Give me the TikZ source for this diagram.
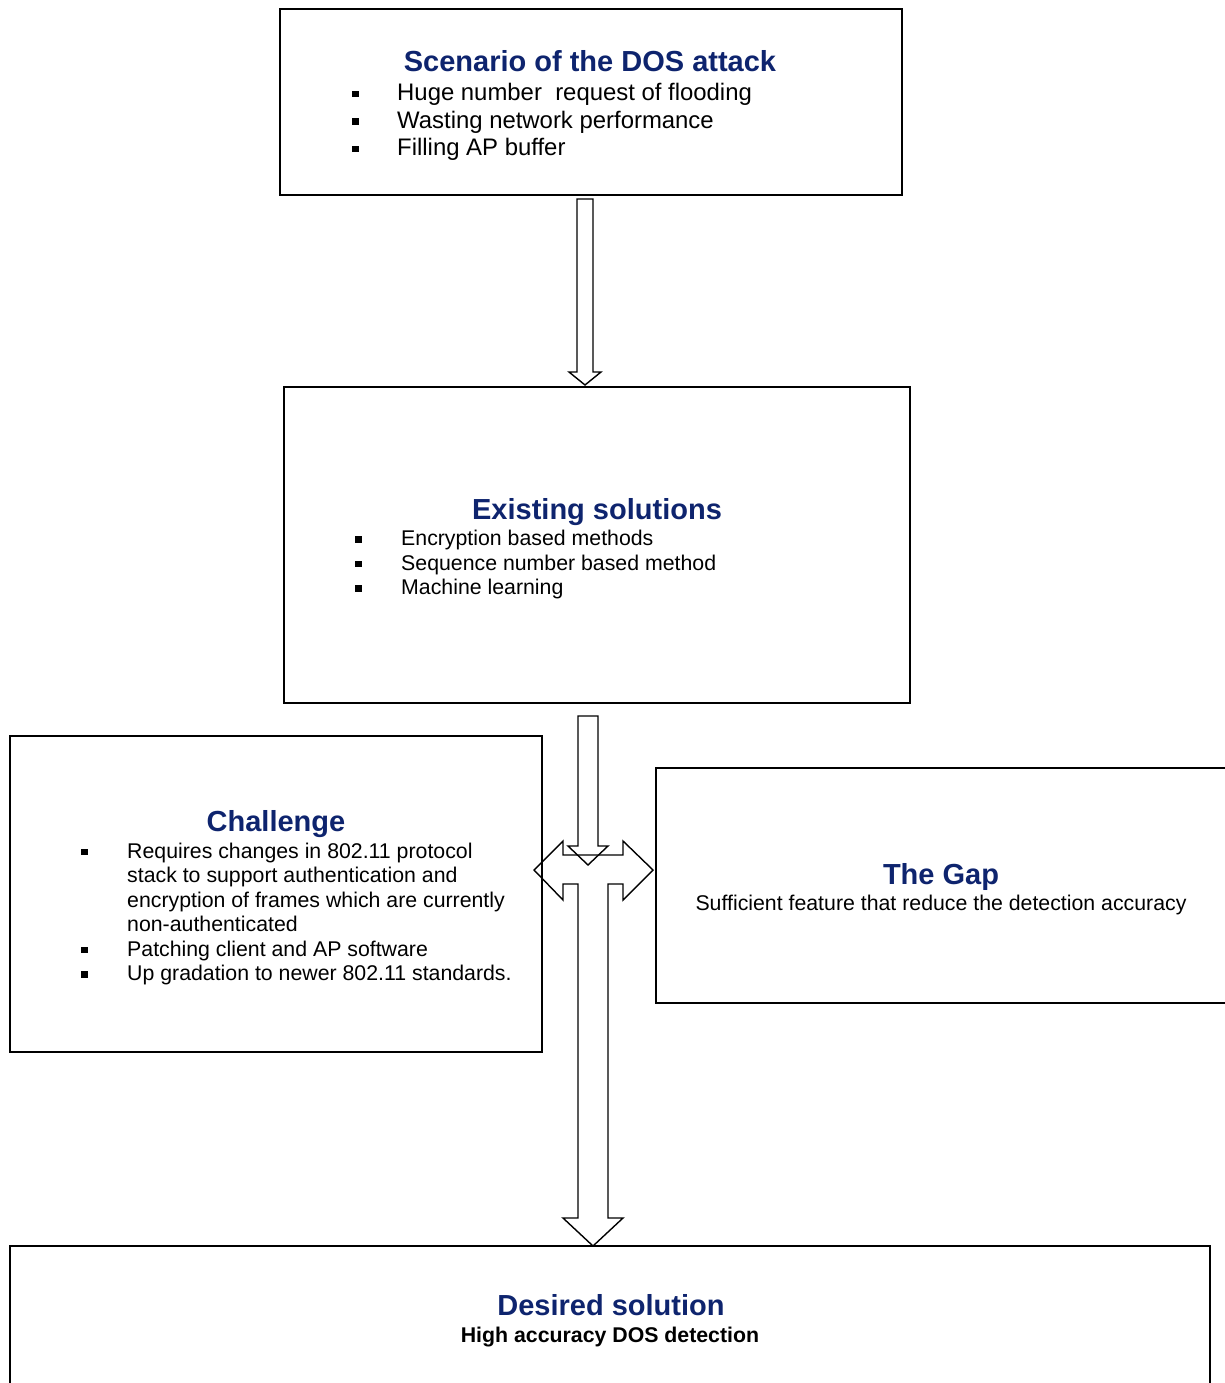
\documentclass[tikz,border=0pt]{standalone}
\usepackage{fontspec}
\setmainfont{Liberation Sans}
\usetikzlibrary{positioning}
\definecolor{ttlblue}{RGB}{14,36,110}
\tikzset{
  box/.style    ={draw, line width=1.6pt, inner sep=0pt},
  ttl/.style    ={font=\fontsize{29}{34}\selectfont\bfseries, text=ttlblue, inner sep=0pt, anchor=base},
  bodyl/.style  ={font=\fontsize{21.3}{24.5}\selectfont, align=left, inner sep=0pt, anchor=base west},
  bigl/.style   ={font=\fontsize{23.9}{27.5}\selectfont, align=left, inner sep=0pt, anchor=base west},
  bodyc/.style  ={font=\fontsize{21.3}{24.5}\selectfont, inner sep=0pt, anchor=base},
  harrow/.style ={draw, line width=1.4pt, line join=miter},
}
\newcommand{\bul}{\makebox[46pt][l]{\rule[3pt]{6.5pt}{6.5pt}}}
\newcommand{\bigbul}{\makebox[45pt][l]{\rule[3.5pt]{6.5pt}{6.5pt}}}

\begin{document}
\begin{tikzpicture}[x=1pt, y=-1pt]
  \useasboundingbox (0,0) rectangle (1224,1383);

  % boxes
  \node[box, minimum width=622pt, minimum height=186pt] (scen) at (591,102) {};
  \node[box, minimum width=626pt, minimum height=316pt] (exist) at (597,545) {};
  \node[box, minimum width=532pt, minimum height=316pt] (chall) at (276,894) {};
  \node[box, minimum width=570pt, minimum height=235pt] (gap) at (941,885.5) {};
  \node[box, minimum width=1200pt, minimum height=144pt] (desir) at (610,1318) {};

  % texts (lists are anchored at the baseline of their last line)
  \node[ttl] (scent) at (590,71.5) {Scenario of the DOS attack};
  \node[bigl] (scenl) at (352,156) {\bigbul Huge number\ \ request of flooding\\
    \bigbul Wasting network performance\\
    \bigbul Filling AP buffer};

  \node[ttl] (existt) at (597,519) {Existing solutions};
  \node[bodyl] (existl) at (355,594.5) {\bul Encryption based methods\\
    \bul Sequence number based method\\
    \bul Machine learning};

  \node[ttl] (challt) at (276,831) {Challenge};
  \node[bodyl] (challl) at (81,980.5) {\bul Requires changes in 802.11 protocol\\
    \hspace*{46pt}stack to support authentication and\\
    \hspace*{46pt}encryption of frames which are currently\\
    \hspace*{46pt}non-authenticated\\
    \bul Patching client and AP software\\
    \bul Up gradation to newer 802.11 standards.};

  \node[ttl] (gapt) at (941,884) {The Gap};
  \node[bodyc] (gapl) at (941,910) {Sufficient feature that reduce the detection accuracy};

  \node[ttl] (desirt) at (611,1315) {Desired solution};
  \node[bodyc, font=\fontsize{21.3}{24}\selectfont\bfseries] (desirl) at (610,1342) {High accuracy DOS detection};

  % block arrows
  \draw[harrow] (577,199) -- (593,199) -- (593,372) -- (601,372) -- (585,385)
    -- (569,372) -- (577,372) -- cycle;
  \draw[harrow] (563,855) -- (563,841) -- (534,870) -- (563,900) -- (563,884)
    -- (578,884) -- (578,1218) -- (563,1218) -- (593,1246) -- (623,1218)
    -- (608,1218) -- (608,884) -- (623,884) -- (623,900) -- (653,870)
    -- (623,841) -- (623,855) -- cycle;
  \draw[harrow] (578,716) -- (598,716) -- (598,846) -- (608,846) -- (588,865)
    -- (568,846) -- (578,846) -- cycle;
\end{tikzpicture}
\end{document}
